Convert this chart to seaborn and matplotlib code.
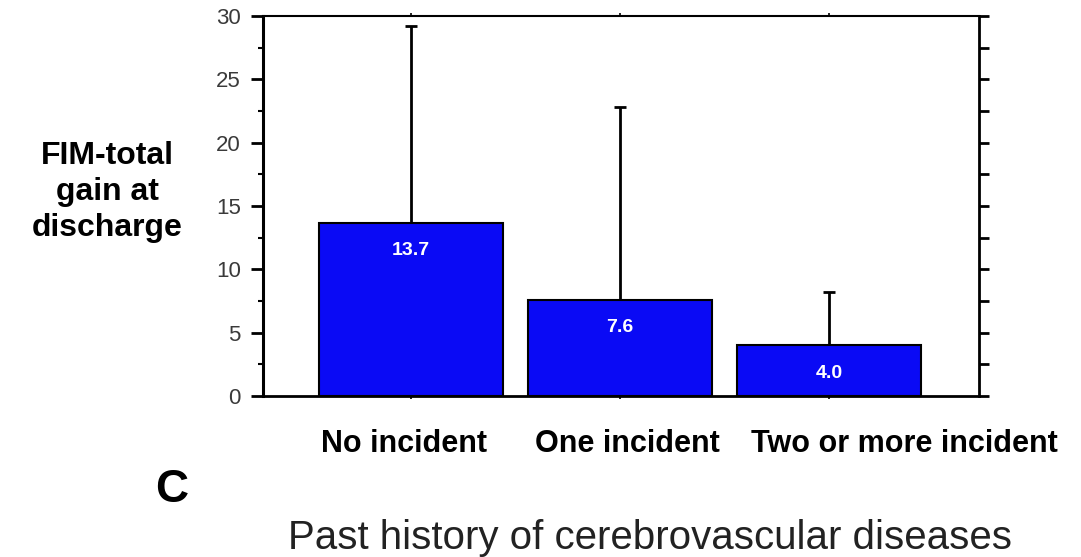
import matplotlib
matplotlib.use("Agg")
import matplotlib.pyplot as plt
import matplotlib.transforms as mtransforms
from matplotlib.ticker import MultipleLocator
import seaborn as sns
import pandas as pd

categories = ["No incident", "One incident", "Two or more incident"]
means = [13.7, 7.6, 4.0]
sd_upper = [15.5, 15.2, 4.2]
value_labels = ["13.7", "7.6", "4.0"]
yticks = [0, 5, 10, 15, 20, 25, 30]

sns.set_theme(style="white")
plt.rcParams["font.family"] = ["Liberation Sans", "DejaVu Sans"]

df = pd.DataFrame({"category": categories, "mean": means})

fig = plt.figure(figsize=(10.81, 5.57), dpi=100)
ax = fig.add_axes([0.2433, 0.289, 0.6623, 0.6822])

sns.barplot(data=df, x="category", y="mean", ax=ax, color="#0a0af5",
            saturation=1, width=0.88, edgecolor="black", linewidth=1.5,
            errorbar=None)

xpos = list(range(len(categories)))
eb = ax.errorbar(xpos, means, yerr=[[0] * len(sd_upper), sd_upper],
                 fmt="none", ecolor="black", elinewidth=2, capsize=4,
                 capthick=2, zorder=3)
caplines = eb[1]
if len(caplines) >= 2:
    caplines[0].set_visible(False)

for i, (m, lab) in enumerate(zip(means, value_labels)):
    ax.annotate(lab, xy=(i, m), xytext=(0, -14), textcoords="offset points",
                ha="center", va="top", color="white", fontsize=14,
                fontweight="bold")

ax.set_xlim(-0.708, 2.718)
ax.set_ylim(0, 30)
ax.set_yticks(yticks)
ax.yaxis.set_minor_locator(MultipleLocator(2.5))
ax.set_xlabel("")
ax.set_ylabel("")

for side, lw in [("left", 2.2), ("bottom", 2.0), ("top", 1.5), ("right", 2.0)]:
    ax.spines[side].set_visible(True)
    ax.spines[side].set_color("black")
    ax.spines[side].set_linewidth(lw)

ax.tick_params(axis="y", which="major", direction="out", length=9, width=2,
               color="black", labelsize=16, labelcolor="#3a3a3a", pad=7,
               left=True, right=False)
ax.tick_params(axis="y", which="minor", direction="out", length=3.5, width=1.5,
               color="black", left=True, right=False)
ax.tick_params(axis="x", which="major", direction="out", length=2.5, width=1.2,
               color="black", bottom=True, top=True, labelsize=22,
               labelcolor="black", pad=21)

ax.set_xticks(xpos)
ax.set_xticklabels(categories, fontweight="bold")
offsets_px = [-7, 7, 75]
for lbl, dx in zip(ax.get_xticklabels(), offsets_px):
    lbl.set_transform(lbl.get_transform() +
                      mtransforms.ScaledTranslation(dx / 100, 0, fig.dpi_scale_trans))

ax2 = ax.twinx()
ax2.set_ylim(0, 30)
ax2.yaxis.set_major_locator(MultipleLocator(2.5))
ax2.tick_params(axis="y", direction="out", length=7, width=2, color="black",
                labelright=False, right=True)
for s in ax2.spines.values():
    s.set_visible(False)
ax2.grid(False)

fig.text(0.099, 0.655, "FIM-total\ngain at\ndischarge", ha="center", va="center",
         fontsize=23, fontweight="bold", color="black", linespacing=1.25)
fig.text(0.159, 0.12, "C", ha="center", va="center", fontsize=33,
         fontweight="bold", color="black")
fig.text(0.6015, 0.034, "Past history of cerebrovascular diseases",
         ha="center", va="center", fontsize=29, color="#222222")

fig.savefig("out.png", dpi=100, facecolor="white")
